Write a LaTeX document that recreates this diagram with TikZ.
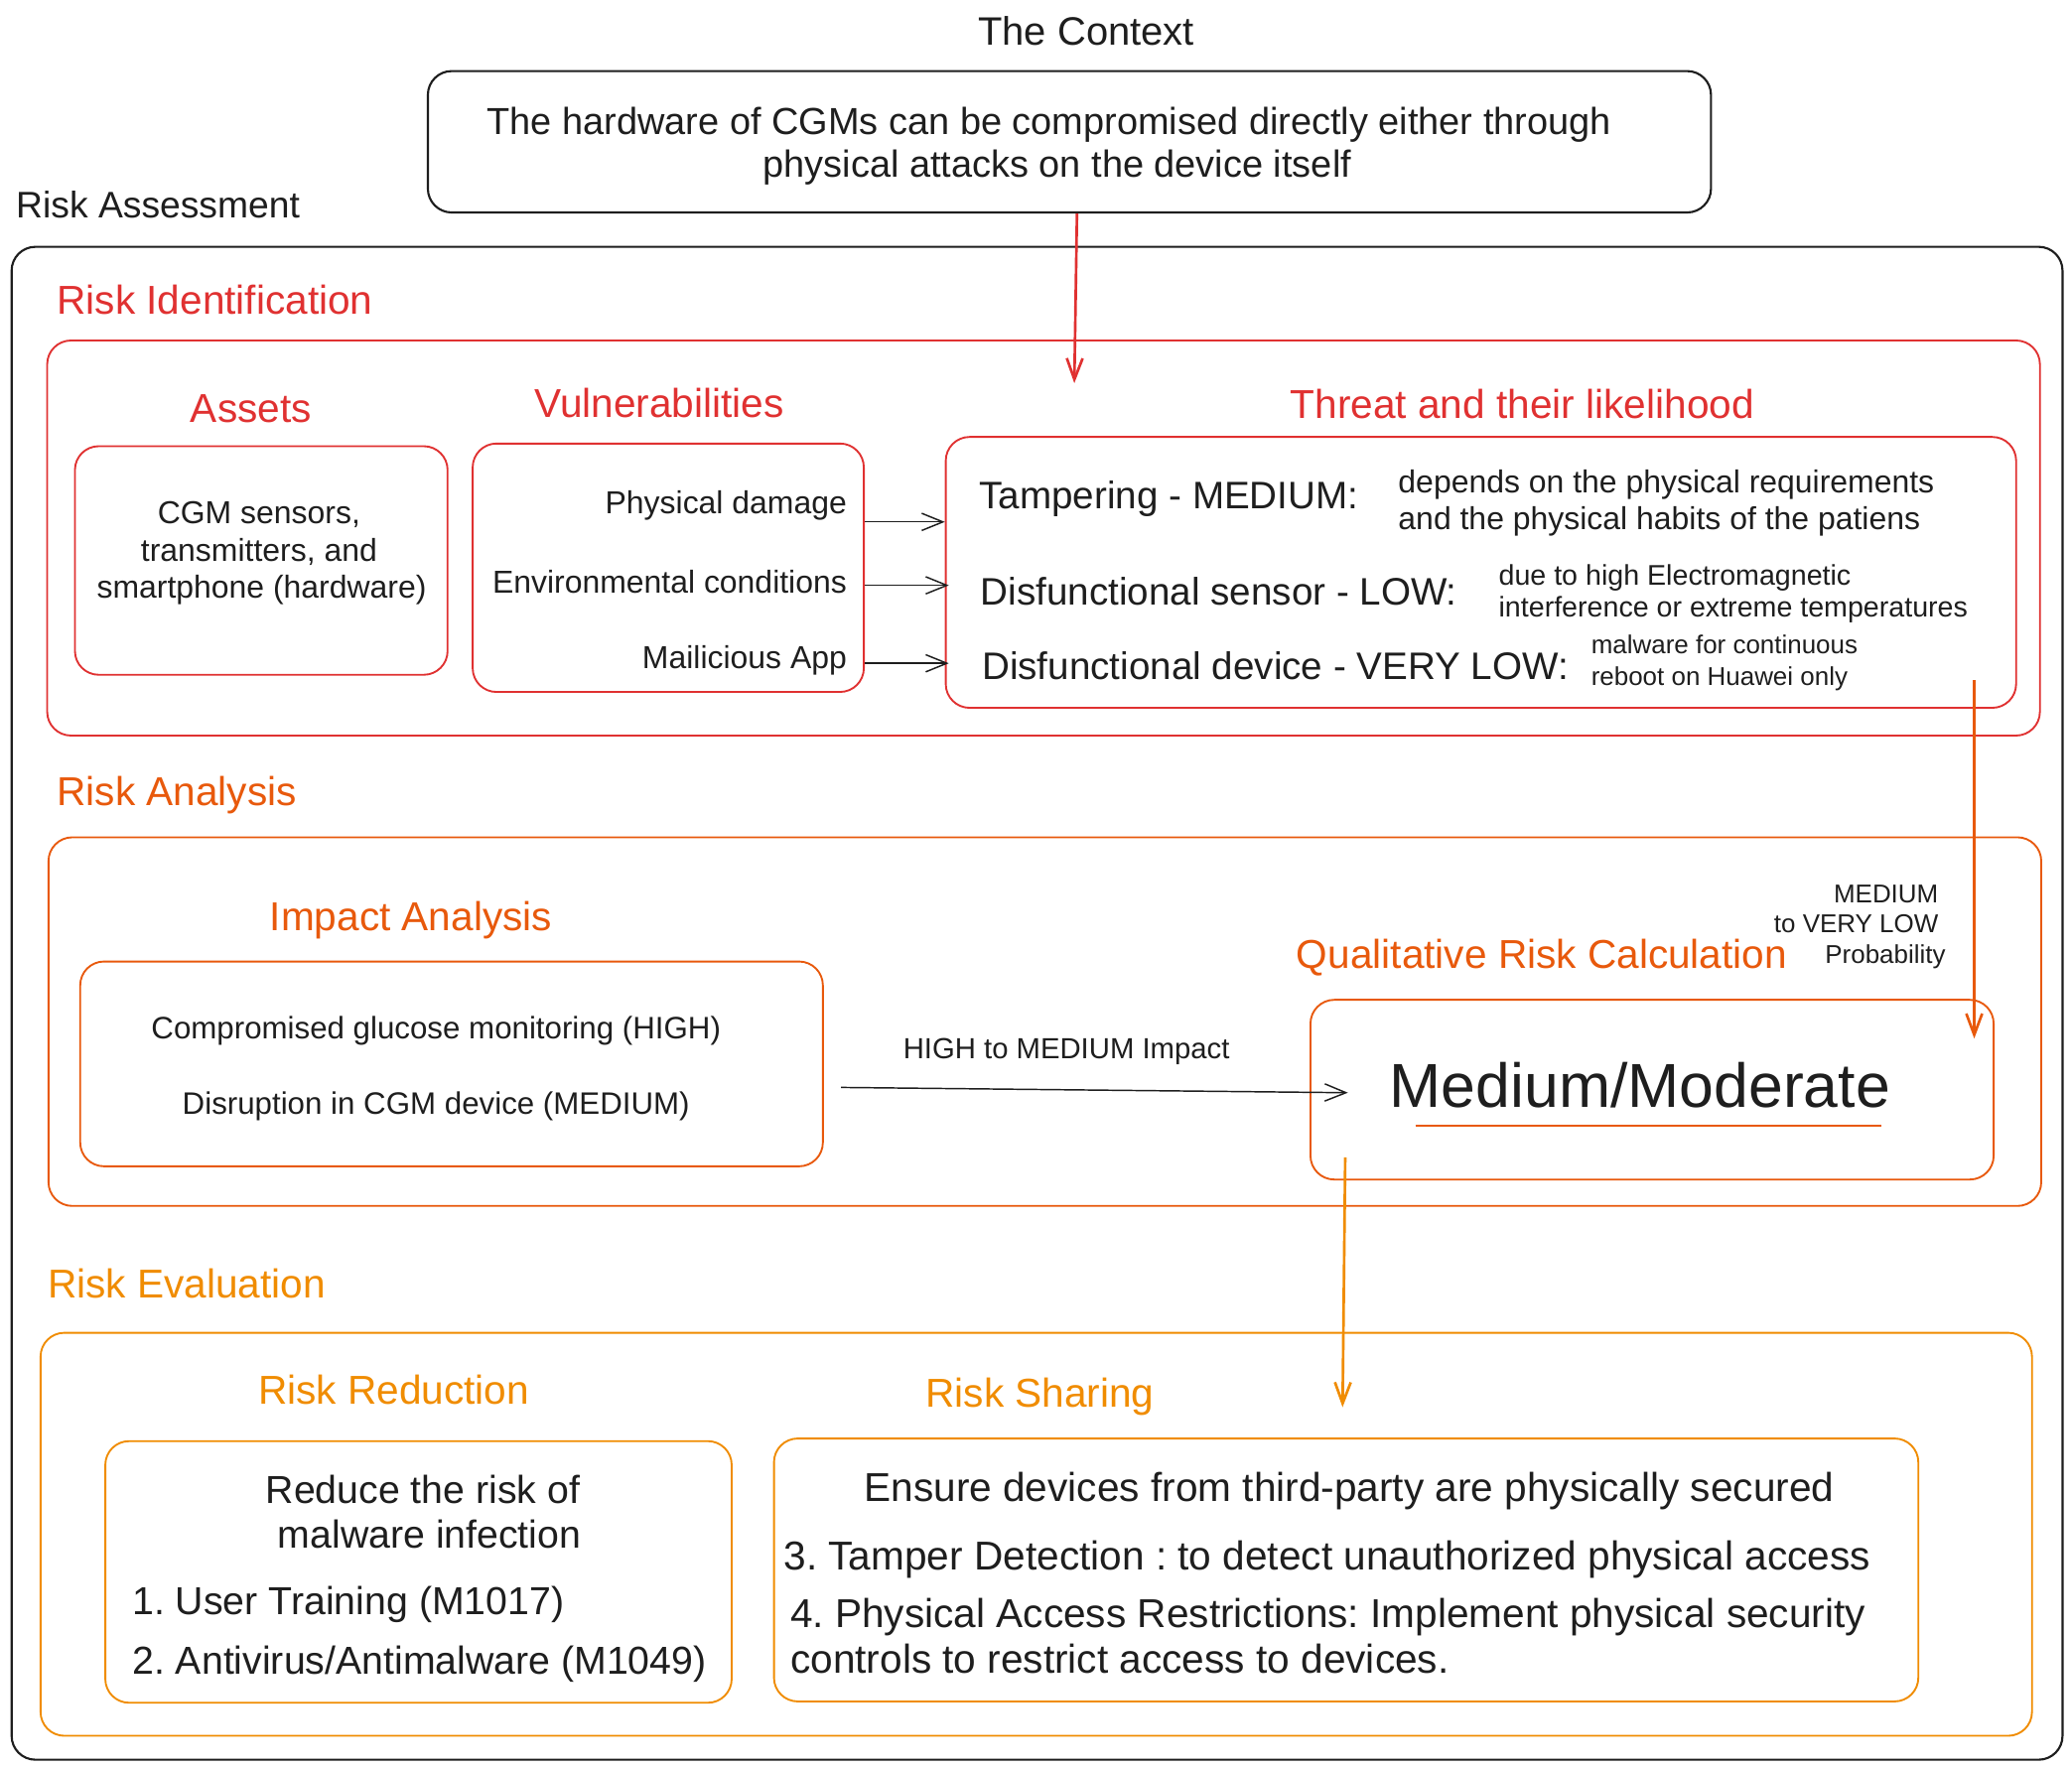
\documentclass[tikz,border=0pt]{standalone}
\usepackage{fontspec}
\setmainfont{Liberation Sans}
\usetikzlibrary{arrows.meta}
\definecolor{ink}{HTML}{1E1E1E}
\definecolor{cred}{HTML}{E03131}
\definecolor{corg}{HTML}{E8590C}
\definecolor{cyel}{HTML}{F08C00}
\newcommand\fs[1]{\fontsize{#1}{#1}\selectfont}
\frenchspacing
\tikzset{
  box/.style={draw=#1, line width=1.4pt, rounded corners=18pt, inner sep=0pt, anchor=north west},
  txt/.style={inner sep=0pt, text=ink},
  ttl/.style={inner sep=0pt, text=#1, font=\fs{30.5}},
  barrow/.style={draw=ink, line width=1.1pt, -{Straight Barb[length=16pt,width=13pt]}},
  carrow/.style={draw=#1, line width=2pt, -{Straight Barb[length=16pt,width=12pt]}},
}
\begin{document}
\frenchspacing
\begin{tikzpicture}[x=1pt,y=-1pt]
\fill[white] (0,0) rectangle (1568,1338);
\useasboundingbox (0,0) rectangle (1568,1338);

% Context
\node[txt, font=\fs{30}, anchor=base] (ctxttl) at (822,34) {The Context};
\node[box=ink, minimum width=971pt, minimum height=107pt, line width=1.6pt] (ctx) at (323,53) {};
\node[txt, font=\fs{28.5}, anchor=base] (ctx1) at (794,102) {The hardware of CGMs can be compromised directly either through};
\node[txt, font=\fs{28.5}, anchor=base] (ctx2) at (800,134) {physical attacks on the device itself};

% Outer
\node[txt, font=\fs{28}, anchor=base west] (rattl) at (12,165) {Risk Assessment};
\node[box=ink, minimum width=1552pt, minimum height=1145pt, line width=1.6pt] (outer) at (8,186) {};

% Risk identification
\node[ttl=cred, anchor=base west] (idttl) at (43,238) {Risk Identification};
\node[box=cred, minimum width=1508pt, minimum height=299pt] (idbox) at (35,257) {};

\node[ttl=cred, anchor=base] (asttl) at (190,320) {Assets};
\node[box=cred, minimum width=282pt, minimum height=173pt] (assets) at (56,337) {};
\node[txt, font=\fs{24}, anchor=base] (as1) at (196,396) {CGM sensors,};
\node[txt, font=\fs{24}, anchor=base] (as2) at (196,425) {transmitters, and};
\node[txt, font=\fs{24}, anchor=base] (as3) at (198,453) {smartphone (hardware)};

\node[ttl=cred, anchor=base] (vuttl) at (499,316) {Vulnerabilities};
\node[box=cred, minimum width=296pt, minimum height=188pt] (vuln) at (357,335) {};
\node[txt, font=\fs{24}, anchor=base east] (vu1) at (641,389) {Physical damage};
\node[txt, font=\fs{24}, anchor=base east] (vu2) at (641,449) {Environmental conditions};
\node[txt, font=\fs{24}, anchor=base east] (vu3) at (641,506) {Mailicious App};

\node[ttl=cred, anchor=base] (thttl) at (1152,317) {Threat and their likelihood};
\node[box=cred, minimum width=810pt, minimum height=205pt] (threat) at (715,330) {};
\node[txt, font=\fs{29}, anchor=base west] (th1) at (741,385) {Tampering - MEDIUM:};
\node[txt, font=\fs{24}, anchor=base west] (th1a) at (1058,373) {depends on the physical requirements};
\node[txt, font=\fs{24}, anchor=base west] (th1b) at (1058,401) {and the physical habits of the patiens};
\node[txt, font=\fs{29}, anchor=base west] (th2) at (742,458) {Disfunctional sensor - LOW:};
\node[txt, font=\fs{21.5}, anchor=base west] (th2a) at (1134,443) {due to high Electromagnetic};
\node[txt, font=\fs{21.5}, anchor=base west] (th2b) at (1134,467) {interference or extreme temperatures};
\node[txt, font=\fs{29}, anchor=base west] (th3) at (743,514) {Disfunctional device - VERY LOW:};
\node[txt, font=\fs{19.5}, anchor=base west] (th3a) at (1204,495) {malware for continuous};
\node[txt, font=\fs{19.5}, anchor=base west] (th3b) at (1204,519) {reboot on Huawei only};

\coordinate (y1) at (0,395);
\coordinate (y2) at (0,443);
\coordinate (y3) at (0,502);
\draw[barrow] (vuln.east |- y1) -- (threat.west |- y1);
\draw[barrow] (vuln.east |- y2) -- ([xshift=3pt]threat.west |- y2);
\draw[barrow] (vuln.east |- y3) -- ([xshift=3pt]threat.west |- y3);

% Risk analysis
\node[ttl=corg, anchor=base west] (anttl) at (43,610) {Risk Analysis};
\node[box=corg, minimum width=1508pt, minimum height=279pt] (anbox) at (36,633) {};

\node[ttl=corg, anchor=base] (imttl) at (311,704) {Impact Analysis};
\node[box=corg, minimum width=562pt, minimum height=155pt] (impact) at (60,727) {};
\node[txt, font=\fs{23.5}, anchor=base] (im1) at (330,786) {Compromised glucose monitoring (HIGH)};
\node[txt, font=\fs{23.5}, anchor=base] (im2) at (330,843) {Disruption in CGM device (MEDIUM)};

\node[ttl=corg, anchor=base west] (qrttl) at (981,733) {Qualitative Risk Calculation};
\node[txt, font=\fs{19.5}, anchor=base east] (pr1) at (1467,683) {MEDIUM};
\node[txt, font=\fs{19.5}, anchor=base east] (pr2) at (1467,706) {to VERY LOW};
\node[txt, font=\fs{19.5}, anchor=base west] (pr3) at (1381,729) {Probability};
\node[box=corg, minimum width=517pt, minimum height=136pt] (calc) at (991,756) {};
\node[txt, font=\fs{47}, anchor=base] (mm) at (1241,838) {Medium/Moderate};
\draw[corg, line width=2pt] (1071,852) -- (1424,852);

\coordinate (impS) at (635,823);
\coordinate (impEnd) at (1020,827);
\draw[barrow] ([xshift=13pt]impact.east |- impS) -- (impEnd);
\node[txt, font=\fs{22}, anchor=base] (imlbl) at (807,801) {HIGH to MEDIUM Impact};

% Risk evaluation
\node[ttl=cyel, anchor=base west] (evttl) at (36,982) {Risk Evaluation};
\node[box=cyel, minimum width=1507pt, minimum height=305pt] (evbox) at (30,1008) {};

\node[ttl=cyel, anchor=base] (rrttl) at (298,1063) {Risk Reduction};
\node[box=cyel, minimum width=474pt, minimum height=198pt] (reduce) at (79,1090) {};
\node[txt, font=\fs{29.5}, anchor=base] (rr1) at (320,1138) {Reduce the risk of};
\node[txt, font=\fs{29.5}, anchor=base] (rr2) at (325,1172) {malware infection};
\node[txt, font=\fs{29.5}, anchor=base west] (rr3) at (100,1222) {1. User Training (M1017)};
\node[txt, font=\fs{29.5}, anchor=base west] (rr4) at (100,1267) {2. Antivirus/Antimalware (M1049)};

\node[ttl=cyel, anchor=base] (rsttl) at (787,1065) {Risk Sharing};
\node[box=cyel, minimum width=866pt, minimum height=199pt] (share) at (585,1088) {};
\node[txt, font=\fs{30.5}, anchor=base] (rs1) at (1021,1136) {Ensure devices from third-party are physically secured};
\node[txt, font=\fs{30.5}, anchor=base west] (rs2) at (593,1188) {3. Tamper Detection : to detect unauthorized physical access};
\node[txt, font=\fs{30.5}, anchor=base west] (rs3) at (598,1232) {4. Physical Access Restrictions: Implement physical security};
\node[txt, font=\fs{30.5}, anchor=base west] (rs4) at (598,1266) {controls to restrict access to devices.};

% coloured connectors
\coordinate (redEnd) at (813,290);
\coordinate (orgStart) at (1494,515);
\coordinate (orgEnd) at (1494,786);
\coordinate (yelStart) at (1018,876);
\coordinate (yelEnd) at (1016,1065);
\draw[carrow=cred] (ctx.south -| 815,0) -- (redEnd);
\draw[carrow=corg] (orgStart) -- (orgEnd);
\draw[carrow=cyel] (yelStart) -- (yelEnd);
\end{tikzpicture}
\end{document}
